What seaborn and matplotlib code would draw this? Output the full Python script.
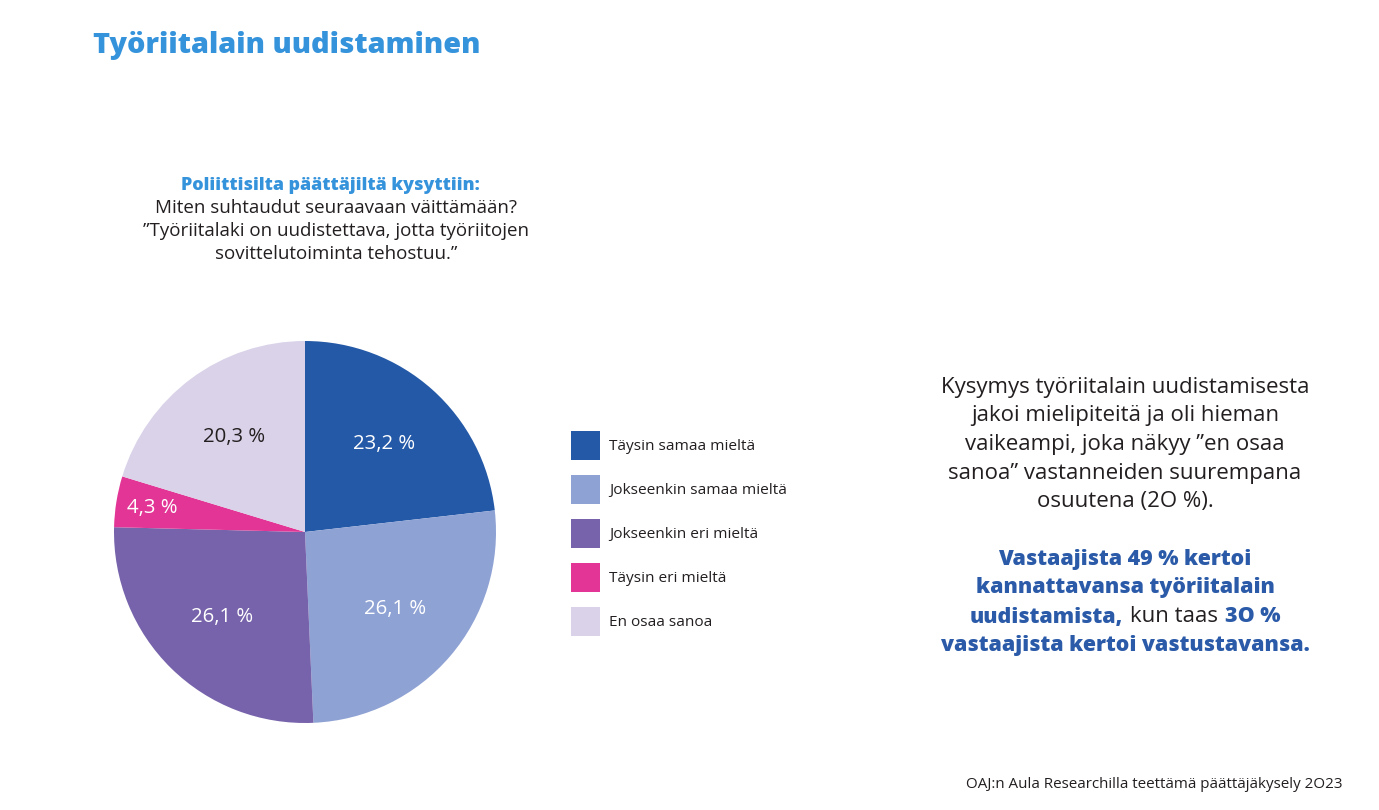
import matplotlib
matplotlib.use("Agg")
import matplotlib.pyplot as plt
import seaborn as sns
from matplotlib.offsetbox import TextArea, HPacker, AnnotationBbox

# data
categories = ["Täysin samaa mieltä", "Jokseenkin samaa mieltä", "Jokseenkin eri mieltä",
              "Täysin eri mieltä", "En osaa sanoa"]
shares = [23.2, 26.1, 26.1, 4.3, 20.3]
slice_colors = ["#2459a8", "#8fa2d4", "#7763ab", "#e23595", "#d9d2e8"]
label_colors = ["white", "white", "white", "white", "#231f20"]

title = "Työriitalain uudistaminen"
question_head = "Poliittisilta päättäjiltä kysyttiin:"
question_lines = ["Miten suhtaudut seuraavaan väittämään?",
                  "”Työriitalaki on uudistettava, jotta työriitojen",
                  "sovittelutoiminta tehostuu.”"]
note_lines = ["Kysymys työriitalain uudistamisesta",
              "jakoi mielipiteitä ja oli hieman",
              "vaikeampi, joka näkyy ”en osaa",
              "sanoa” vastanneiden suurempana",
              "osuutena (2O %)."]
source = "OAJ:n Aula Researchilla teettämä päättäjäkysely 2O23"

sns.set_theme(style="white")
plt.rcParams["font.family"] = ["Open Sans", "DejaVu Sans"]

W, H = 1379, 810
fig = plt.figure(figsize=(W / 100, H / 100), dpi=100)
fig.patch.set_facecolor("white")

dark = "#231f20"
title_blue = "#3593dc"
bold_blue = "#2a5aa8"
heavy = 800

def fx(x):
    return x / W

def fy(y):
    return 1 - y / H

# title
fig.text(fx(93), fy(46), title, color=title_blue, fontsize=20.8, fontweight=heavy,
         ha="left", va="center")

# question
fig.text(fx(330), fy(185), question_head, color=title_blue, fontsize=12.9,
         fontweight=heavy, ha="center", va="center")
for i, line in enumerate(question_lines):
    fig.text(fx(336), fy(208 + 23 * i), line, color=dark, fontsize=13.5,
             ha="center", va="center")

# pie
cx, cy, r = 305, 532, 191
ax = fig.add_axes([fx(cx - r), fy(cy + r), (2 * r) / W, (2 * r) / H])
wedges, texts, autotexts = ax.pie(
    shares, colors=slice_colors, startangle=90, counterclock=False,
    autopct=lambda p: f"{p:.1f} %".replace(".", ","), pctdistance=0.62,
    wedgeprops=dict(linewidth=0, edgecolor="none"),
    textprops=dict(color="white", fontsize=14.7))
for t, c in zip(autotexts, label_colors):
    t.set_color(c)
# the small slice label sits further out
x, y = autotexts[3].get_position()
autotexts[3].set_position((x * 0.81 / 0.62, y * 0.79 / 0.62))
ax.set_xlim(-1, 1)
ax.set_ylim(-1, 1)
ax.axis("off")

# legend
fig.legend(wedges, categories, loc="upper left",
           bbox_to_anchor=(fx(571), fy(431)), frameon=False, fontsize=11.1,
           handlelength=1.88, handleheight=2.52, handletextpad=0.6,
           labelspacing=0.97, borderpad=0, borderaxespad=0,
           labelcolor=dark)

# right-side note
fs = 16
fb = 15.4
for i, line in enumerate(note_lines):
    fig.text(fx(1125), fy(387 + 28.7 * i), line, color=dark, fontsize=fs,
             ha="center", va="center")

bold_lines = ["Vastaajista 49 % kertoi", "kannattavansa työriitalain", None,
              "vastaajista kertoi vastustavansa."]
for i, line in enumerate(bold_lines):
    yy = fy(559 + 29 * i)
    if line is not None:
        fig.text(fx(1125), yy, line, color=bold_blue, fontsize=fb,
                 fontweight=heavy, ha="center", va="center")
    else:
        parts = [TextArea("uudistamista,", textprops=dict(color=bold_blue, fontsize=fb,
                                                           fontweight=heavy)),
                 TextArea("kun taas", textprops=dict(color=dark, fontsize=fs)),
                 TextArea("3O %", textprops=dict(color=bold_blue, fontsize=fb,
                                                 fontweight=heavy))]
        pack = HPacker(children=parts, sep=5, pad=0, align="baseline")
        ab = AnnotationBbox(pack, (fx(1125), yy), xycoords="figure fraction",
                            frameon=False, box_alignment=(0.5, 0.5), pad=0)
        fig.add_artist(ab)

# source
fig.text(fx(1342), fy(785), source, color=dark, fontsize=10.9, ha="right", va="center")

fig.savefig("out.png", dpi=100, facecolor="white")
